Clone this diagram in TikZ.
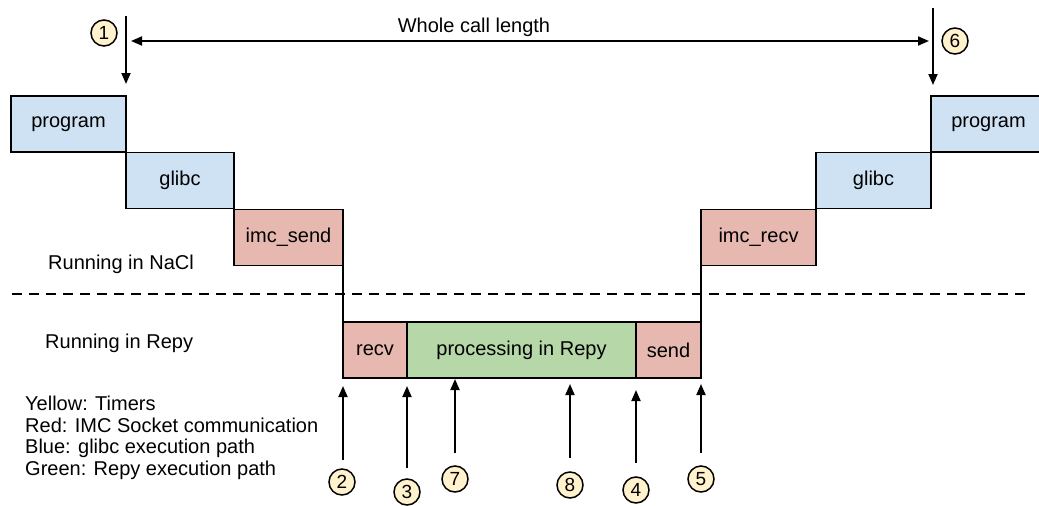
\documentclass[tikz,border=0pt]{standalone}
\usepackage{fontspec}
\setmainfont{Liberation Sans}
\usetikzlibrary{arrows.meta}
\definecolor{bluef}{HTML}{CFE2F3}
\definecolor{redf}{HTML}{E6B8AF}
\definecolor{greenf}{HTML}{B6D7A8}
\definecolor{yellowf}{HTML}{FFF2CC}
\begin{document}
\begin{tikzpicture}[x=1pt,y=-1pt,
  box/.style={draw=black,line width=1.8pt,inner sep=0pt,outer sep=0pt,minimum height=56pt,font=\fontsize{20}{24}\selectfont},
  bluebox/.style={box,fill=bluef},
  redbox/.style={box,fill=redf},
  greenbox/.style={box,fill=greenf},
  num/.style={circle,draw=black,line width=1.5pt,fill=yellowf,minimum size=26pt,inner sep=0pt,font=\fontsize{19}{22}\selectfont},
  lbl/.style={inner sep=0pt,anchor=base west,font=\fontsize{20}{24}\selectfont},
  arr/.style={line width=1.8pt,-{Triangle[length=11pt,width=9pt]}},
  conn/.style={line width=1.8pt}
]
\useasboundingbox (0,0) rectangle (1039,506);

% boxes
\node[bluebox,minimum width=115pt] (progL) at (68.5,124) {program};
\node[bluebox,minimum width=108pt] (glibcL) at (180,180.5) {glibc};
\node[redbox,minimum width=109pt] (imcsend) at (288.5,237.5) {imc\_send};
\node[redbox,minimum width=64pt] (recv) at (375,350) {recv};
\node[greenbox,minimum width=229pt] (proc) at (521.5,350) {processing in Repy};
\node[redbox,minimum width=65pt] (send) at (668.5,350) {send};
\node[redbox,minimum width=115pt] (imcrecv) at (758.5,237.5) {imc\_recv};
\node[bluebox,minimum width=115pt] (glibcR) at (873.5,180.5) {glibc};
\node[bluebox,minimum width=115pt] (progR) at (988.5,124) {program};

% vertical connectors between NaCl and Repy
\draw[conn] (imcsend.south east) -- (recv.north west);
\draw[conn] (imcrecv.south west) -- (send.north east);

% dashed separator
\coordinate (dashL) at (12,294);
\coordinate (dashR) at (1030,294);
\draw[line width=1.5pt,dash pattern=on 10pt off 7pt] (dashL) -- (dashR);

% top arrows
\coordinate (a1s) at (126,16);
\coordinate (a1e) at (126,84);
\draw[arr] (a1s) -- (a1e);
\coordinate (a6s) at (933,8);
\coordinate (a6e) at (933,85);
\draw[arr] (a6s) -- (a6e);
\coordinate (wl) at (131,41);
\coordinate (wr) at (929,41);
\draw[line width=1.8pt,{Triangle[length=11pt,width=9pt]}-{Triangle[length=11pt,width=9pt]}] (wl) -- (wr);
\node[lbl,anchor=base] (whole) at (474,32) {Whole call length};

\node[num] (n1) at (104,33) {1};
\node[num] (n6) at (955,41) {6};

% bottom arrows and timers
\node[num] (n2) at (342,482) {2};
\node[num] (n3) at (407,492) {3};
\node[num] (n7) at (455,479) {7};
\node[num] (n8) at (570,485) {8};
\node[num] (n4) at (636,490) {4};
\node[num] (n5) at (701,479) {5};

\coordinate (b2s) at (343,460); \coordinate (b2e) at (343,386);
\coordinate (b3s) at (407,468); \coordinate (b3e) at (407,386);
\coordinate (b7s) at (455,453); \coordinate (b7e) at (455,379);
\coordinate (b8s) at (570,458); \coordinate (b8e) at (570,384);
\coordinate (b4s) at (636,463); \coordinate (b4e) at (636,390);
\coordinate (b5s) at (701,453); \coordinate (b5e) at (701,384);
\draw[arr] (b2s) -- (b2e);
\draw[arr] (b3s) -- (b3e);
\draw[arr] (b7s) -- (b7e);
\draw[arr] (b8s) -- (b8e);
\draw[arr] (b4s) -- (b4e);
\draw[arr] (b5s) -- (b5e);

% labels
\node[lbl] (nacl) at (48,269) {Running in NaCl};
\node[lbl] (repy) at (45,348) {Running in Repy};
\node[lbl] (leg1) at (25,410) {Yellow: Timers};
\node[lbl] (leg2) at (25,432) {Red: IMC Socket communication};
\node[lbl] (leg3) at (25,453) {Blue: glibc execution path};
\node[lbl] (leg4) at (25,475) {Green: Repy execution path};
\end{tikzpicture}
\end{document}
